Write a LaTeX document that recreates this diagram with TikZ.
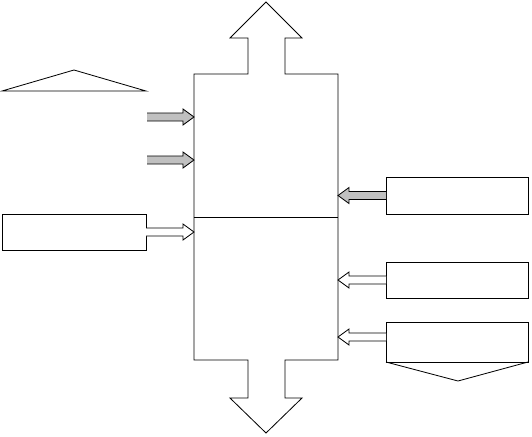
\documentclass[tikz,border=0pt]{standalone}
\usetikzlibrary{calc}
\definecolor{argent}{RGB}{192,192,192}
\tikzset{every path/.style={line width=.7pt,line join=miter},boite/.style={draw,inner sep=0pt,outer sep=0pt,minimum width=#1},pleine/.style={draw,fill=argent},creuse/.style={draw,fill=white}}
% fleche epaisse horizontale : style, queue, pointe, recul de la tete (signe = sens)
\newcommand{\fleche}[4]{\draw[#1] ($(#2)+(0,-4)$)--($(#3)+(#4,-4)$)--($(#3)+(#4,-8)$)--(#3)--($(#3)+(#4,8)$)--($(#3)+(#4,4)$)--($(#2)+(0,4)$);}

\begin{document}
\begin{tikzpicture}[x=.03cm,y=-.03cm]
\useasboundingbox (0,0) rectangle (532,436);
\node[inner sep=0pt,outer sep=0pt,minimum width=4.32cm,minimum height=8.58cm] (coeur) at (266,217) {};
\draw (194,74)--(248,74)--(248,38)--(230,38)--(266,2)--(302,38)--(285,38)--(285,74)--(338,74)--(338,360)--(285,360)--(285,398)--(302,398)--(266,433)--(230,398)--(248,398)--(248,360)--(194,360)--cycle;
\draw (coeur.west)--(coeur.east);
\draw (2,91)--(74,70)--(146,91)--cycle;
\node[boite=4.32cm,minimum height=1.08cm] (gauche) at (74,232) {};
\node[boite=4.26cm,minimum height=1.11cm] (haut) at (457,195.5) {};
\node[boite=4.26cm,minimum height=1.08cm] (milieu) at (457,280) {};
\node[boite=4.26cm,minimum height=1.2cm] (bas) at (457,342) {};
\draw (bas.south west)--(458,381)--(bas.south east);
\coordinate (e1) at (147,117);\coordinate (e2) at (147,160);\coordinate (s3) at ($(bas.west)+(0,-5)$);
\coordinate (p1) at (coeur.west |- e1);\coordinate (p2) at (coeur.west |- e2);\coordinate (p3) at (coeur.west |- gauche.east);
\coordinate (q1) at (coeur.east |- haut.west);\coordinate (q2) at (coeur.east |- milieu.west);\coordinate (q3) at (coeur.east |- s3);
\fleche{pleine}{e1}{p1}{-11}\fleche{pleine}{e2}{p2}{-11}\fleche{creuse}{gauche.east}{p3}{-11}
\fleche{pleine}{haut.west}{q1}{11}\fleche{creuse}{milieu.west}{q2}{11}\fleche{creuse}{s3}{q3}{11}
\end{tikzpicture}
\end{document}
